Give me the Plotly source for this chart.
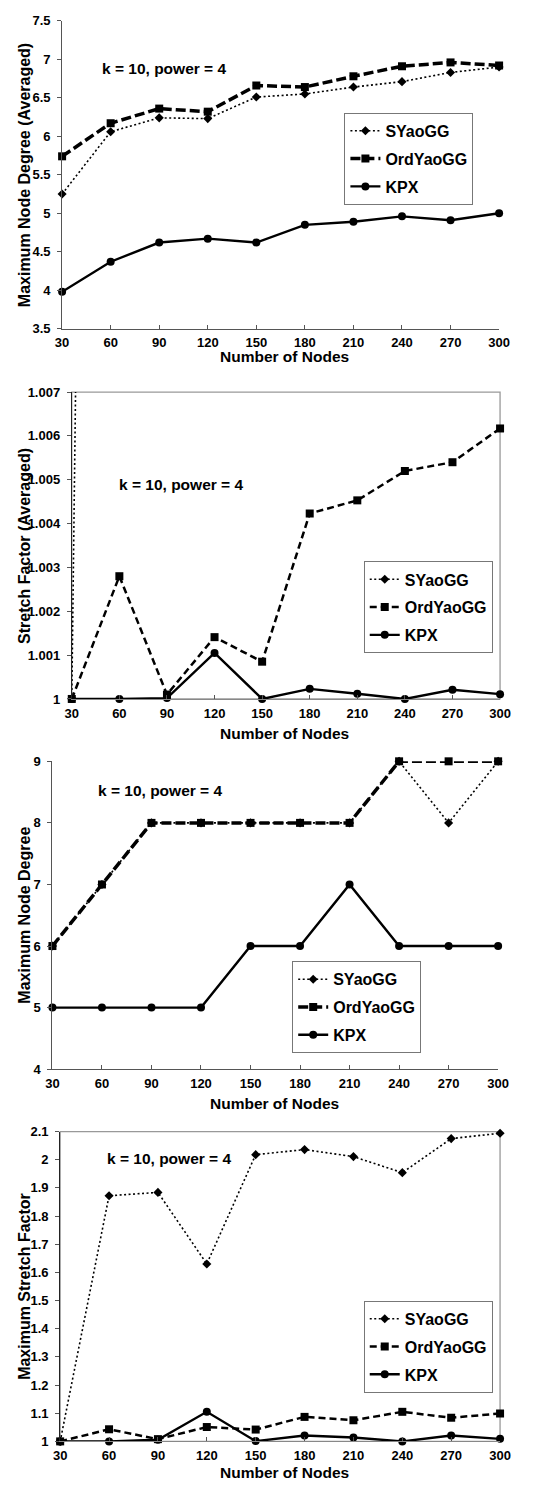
import plotly.graph_objects as go

# ---------------- data ----------------
nodes = [30, 60, 90, 120, 150, 180, 210, 240, 270, 300]
series_names = ["SYaoGG", "OrdYaoGG", "KPX"]

# Panel 1: Maximum Node Degree (Averaged)
p1_syao = [5.25, 6.06, 6.24, 6.23, 6.51, 6.55, 6.64, 6.71, 6.83, 6.90]
p1_ord = [5.74, 6.17, 6.36, 6.32, 6.66, 6.64, 6.78, 6.91, 6.96, 6.92]
p1_kpx = [3.98, 4.37, 4.62, 4.67, 4.62, 4.85, 4.89, 4.96, 4.91, 5.00]

# Panel 2: Stretch Factor (Averaged)  (SYaoGG runs off the top after 30)
p2_syao = [1.0, 1.088, 1.09, 1.085, 1.095, 1.10, 1.10, 1.10, 1.105, 1.11]
p2_ord = [1.0, 1.0028, 1.0001, 1.00141, 1.00085, 1.00423, 1.00453, 1.0052, 1.0054, 1.00617]
p2_kpx = [1.0, 1.0, 1.00002, 1.00105, 1.0, 1.00023, 1.00012, 1.0, 1.00021, 1.00011]

# Panel 3: Maximum Node Degree
p3_syao = [6, 7, 8, 8, 8, 8, 8, 9, 8, 9]
p3_ord = [6, 7, 8, 8, 8, 8, 8, 9, 9, 9]
p3_kpx = [5, 5, 5, 5, 6, 6, 7, 6, 6, 6]

# Panel 4: Maximum Stretch Factor
p4_syao = [1.0, 1.872, 1.884, 1.630, 2.018, 2.036, 2.011, 1.954, 2.075, 2.094]
p4_ord = [1.0, 1.043, 1.008, 1.051, 1.042, 1.087, 1.075, 1.105, 1.084, 1.099]
p4_kpx = [1.0, 1.0, 1.006, 1.105, 1.001, 1.021, 1.014, 1.0, 1.021, 1.009]

p1_ticks = [3.5, 4, 4.5, 5, 5.5, 6, 6.5, 7, 7.5]
p2_ticks = [1, 1.001, 1.002, 1.003, 1.004, 1.005, 1.006, 1.007]
p3_ticks = [4, 5, 6, 7, 8, 9]
p4_ticks = [1, 1.1, 1.2, 1.3, 1.4, 1.5, 1.6, 1.7, 1.8, 1.9, 2, 2.1]

y_titles = ["Maximum Node Degree (Averaged)", "Stretch Factor (Averaged)",
            "Maximum Node Degree", "Maximum Stretch Factor"]
x_title = "Number of Nodes"
note = "k = 10, power = 4"

# ---------------- layout helpers ----------------
W, H = 542, 1488
FONT = "Liberation Sans, Arial, sans-serif"


def px_x(v):
    return v / W


def px_y(v):
    return 1 - v / H


panels = [
    dict(data=(p1_syao, p1_ord, p1_kpx), ticks=p1_ticks, rng=[3.5, 7.5],
         dom_x=(57, 509), dom_y=(14, 325), leg=(349, 107), note=(96, 62),
         xt=(287, 353), framed=False, ordw=3.5, orddash="10px,4px"),
    dict(data=(p2_syao, p2_ord, p2_kpx), ticks=p2_ticks, rng=[1, 1.007],
         dom_x=(67, 510), dom_y=(389, 699), leg=(369, 560), note=(114, 482),
         xt=(287, 734), framed=True, ordw=2.5, orddash="7px,4px"),
    dict(data=(p3_syao, p3_ord, p3_kpx), ticks=p3_ticks, rng=[4, 9],
         dom_x=(47, 508), dom_y=(762, 1073), leg=(295, 964), note=(92, 791),
         xt=(277, 1108), framed=False, ordw=3.5, orddash="10px,4px"),
    dict(data=(p4_syao, p4_ord, p4_kpx), ticks=p4_ticks, rng=[1, 2.1],
         dom_x=(55, 510), dom_y=(1136, 1449), leg=(369, 1307), note=(101, 1163),
         xt=(287, 1480), framed=True, ordw=2.5, orddash="7px,4px"),
]

fig = go.Figure()
layout = dict(width=W, height=H, margin=dict(l=0, r=0, t=0, b=0),
              paper_bgcolor="white", plot_bgcolor="white",
              font=dict(family=FONT, color="black"), showlegend=True)
annotations = []
shapes = []

for i, p in enumerate(panels):
    n = i + 1
    xa = "x" if n == 1 else f"x{n}"
    ya = "y" if n == 1 else f"y{n}"
    leg = "legend" if n == 1 else f"legend{n}"
    syao, ordy, kpx = p["data"]
    styles = [
        dict(line=dict(color="black", width=1.6, dash="2px,2.5px"),
             marker=dict(symbol="diamond", size=7, color="black")),
        dict(line=dict(color="black", width=p["ordw"], dash=p["orddash"]),
             marker=dict(symbol="square", size=8, color="black")),
        dict(line=dict(color="black", width=2.4),
             marker=dict(symbol="circle", size=8, color="black")),
    ]
    for j, (name, vals) in enumerate(zip(series_names, (syao, ordy, kpx))):
        clip = (n == 2 and j == 0)
        fig.add_trace(go.Scatter(
            x=nodes, y=vals, name=name, mode="lines+markers",
            xaxis=xa, yaxis=ya, legend=leg, legendgroup=f"{n}-{j}",
            cliponaxis=clip, **styles[j]))

    dx0, dx1 = p["dom_x"]
    dy0, dy1 = p["dom_y"]
    axis_color = "#555555"
    layout["xaxis" if n == 1 else f"xaxis{n}"] = dict(
        domain=[px_x(dx0), px_x(dx1)], range=[30, 300], anchor=ya,
        tickvals=nodes, ticktext=[str(v) for v in nodes],
        ticks="inside", ticklen=4, tickcolor=axis_color,
        showline=True, linecolor="#888888" if p["framed"] else axis_color, linewidth=1,
        showgrid=False, zeroline=False, ticklabelstandoff=2,
        tickfont=dict(family=FONT, size=13, color="black", weight="bold"))
    layout["yaxis" if n == 1 else f"yaxis{n}"] = dict(
        domain=[px_y(dy1), px_y(dy0)], range=p["rng"], anchor=xa,
        tickvals=p["ticks"], ticktext=[f"{v:g}" for v in p["ticks"]],
        ticks="outside", ticklen=4, tickcolor=axis_color,
        showline=True, linecolor="#222222" if p["framed"] else axis_color, linewidth=1,
        showgrid=False, zeroline=False, ticklabelstandoff=4,
        tickfont=dict(family=FONT, size=13, color="black", weight="bold"))

    if p["framed"]:
        shapes.append(dict(type="rect", xref=f"{xa} domain", yref=f"{ya} domain",
                           x0=0, x1=1, y0=0, y1=1, layer="below",
                           line=dict(color="#999999", width=1.3)))

    lx, ly = p["leg"]
    layout[leg] = dict(x=px_x(lx), y=px_y(ly), xanchor="left", yanchor="top",
                       xref="paper", yref="paper",
                       bgcolor="white", bordercolor="#777777", borderwidth=1,
                       tracegroupgap=4, itemwidth=30,
                       font=dict(family=FONT, size=16, color="black", weight="bold"))

    # axis titles
    annotations.append(dict(text=y_titles[i], x=px_x(18), y=px_y((dy0 + dy1) / 2),
                            xref="paper", yref="paper", showarrow=False, textangle=-90,
                            xanchor="center", yanchor="middle",
                            font=dict(family=FONT, size=16, color="black", weight="bold")))
    tx, ty = p["xt"]
    annotations.append(dict(text=x_title, x=px_x(tx), y=px_y(ty),
                            xref="paper", yref="paper", showarrow=False,
                            xanchor="center", yanchor="middle",
                            font=dict(family=FONT, size=15.5, color="black", weight="bold")))
    nx, ny = p["note"]
    annotations.append(dict(text=note, x=px_x(nx), y=px_y(ny),
                            xref="paper", yref="paper", showarrow=False,
                            xanchor="left", yanchor="middle",
                            font=dict(family=FONT, size=15.5, color="black", weight="bold")))

layout["annotations"] = annotations
layout["shapes"] = shapes
fig.update_layout(**layout)
fig.write_html(
    "out.html",
    config={"displayModeBar": False},
    post_script="document.body.style.margin='0';document.body.style.padding='0';"
                "document.documentElement.style.overflow='hidden';",
)
